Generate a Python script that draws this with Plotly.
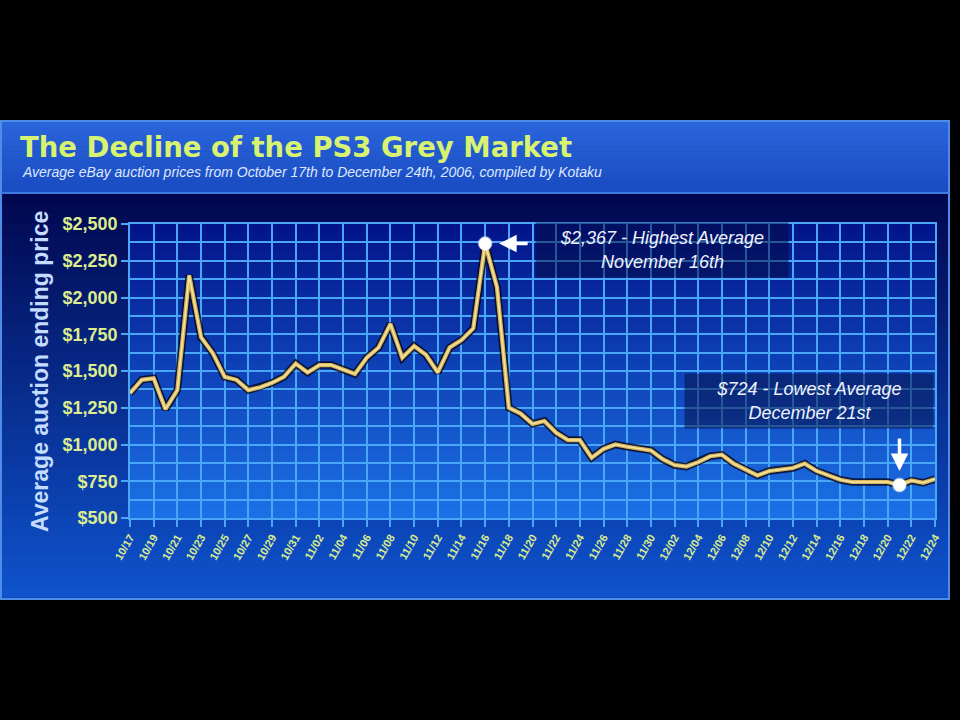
import plotly.graph_objects as go
import pandas as pd

# ---------------- data ----------------
dates = [d.strftime("%Y-%m-%d") for d in pd.date_range("2006-10-17", "2006-12-24", freq="D")]
prices = [
    1350, 1440, 1450, 1240, 1370, 2150, 1730, 1620, 1460, 1440,
    1370, 1390, 1420, 1460, 1550, 1490, 1540, 1540, 1510, 1480,
    1590, 1660, 1820, 1590, 1670, 1610, 1490, 1660, 1710, 1790,
    2367, 2070, 1250, 1210, 1140, 1160, 1080, 1030, 1030, 910,
    970, 1000, 985, 975, 960, 900, 860, 850, 880, 920,
    930, 870, 830, 790, 820, 830, 840, 870, 820, 790,
    760, 745, 745, 750, 745, 724, 755, 740, 765,
]
title_text = "The Decline of the PS3 Grey Market"
subtitle_text = "Average eBay auction prices from October 17th to December 24th, 2006, compiled by Kotaku"
y_title = "Average auction ending price"
high_note = "$2,367 - Highest Average<br>November 16th"
low_note = "$724 - Lowest Average<br>December 21st"

i_hi = prices.index(max(prices))
i_lo = prices.index(min(prices))

# ---------------- geometry helpers (pixel -> paper) ----------------
L, R, T, B = 130, 25, 224, 202
W, H = 960, 720
PW, PH = W - L - R, H - T - B
def px(x):
    return (x - L) / PW
def py(y):
    return (H - B - y) / PH

def hex2rgb(h):
    h = h.lstrip("#")
    return tuple(int(h[i:i + 2], 16) for i in (0, 2, 4))
def mix(c1, c2, t):
    a, b = hex2rgb(c1), hex2rgb(c2)
    return "rgb(%d,%d,%d)" % tuple(round(a[k] + (b[k] - a[k]) * t) for k in range(3))

shapes = []
# panel + title bar
shapes.append(dict(type="rect", xref="paper", yref="paper", x0=px(0), x1=px(950), y0=py(600), y1=py(120),
                   fillcolor="#0c3fae", line=dict(width=0), layer="below"))
n = 12
for k in range(n):
    y0 = 122 + (192 - 122) * k / n
    y1 = 122 + (192 - 122) * (k + 1) / n + 0.6
    shapes.append(dict(type="rect", xref="paper", yref="paper", x0=px(0), x1=px(950), y0=py(y1), y1=py(y0),
                       fillcolor=mix("#2a64da", "#1a4cc2", k / (n - 1)), line=dict(width=0), layer="below"))
# body gradient
n = 40
for k in range(n):
    y0 = 194 + (597 - 194) * k / n
    y1 = 194 + (597 - 194) * (k + 1) / n + 0.6
    shapes.append(dict(type="rect", xref="paper", yref="paper", x0=px(2), x1=px(948), y0=py(y1), y1=py(y0),
                       fillcolor=mix("#010850", "#0e52cc", k / (n - 1)), line=dict(width=0), layer="below"))
# plot-area gradient
n = 30
for k in range(n):
    y0 = T + PH * k / n
    y1 = T + PH * (k + 1) / n + 0.6
    shapes.append(dict(type="rect", xref="paper", yref="paper", x0=0, x1=1, y0=py(y1), y1=py(y0),
                       fillcolor=mix("#03158a", "#1c70e6", k / (n - 1)), line=dict(width=0), layer="below"))
# borders
shapes.append(dict(type="rect", xref="paper", yref="paper", x0=px(1), x1=px(949), y0=py(599), y1=py(121),
                   fillcolor="rgba(0,0,0,0)", line=dict(color="#4f8ce8", width=2), layer="below"))
shapes.append(dict(type="line", xref="paper", yref="paper", x0=px(1), x1=px(949), y0=py(193), y1=py(193),
                   line=dict(color="#3f7ae0", width=2), layer="below"))

grid_c = "#4aa6f6"
tick_font = dict(family="Liberation Sans", size=18, color="#dcec8e", weight="bold")

fig = go.Figure()
fig.add_trace(go.Scatter(x=dates, y=prices, mode="lines", line=dict(color="rgba(8,8,30,0.8)", width=7.5),
                         hoverinfo="skip"))
fig.add_trace(go.Scatter(x=dates, y=prices, mode="lines", line=dict(color="#d9b556", width=4.2),
                         name="Average price"))
fig.add_trace(go.Scatter(x=dates, y=prices, mode="lines", line=dict(color="#f4e6a8", width=1.5),
                         hoverinfo="skip"))
fig.add_trace(go.Scatter(x=[dates[i_hi], dates[i_lo]], y=[prices[i_hi], prices[i_lo]], mode="markers",
                         marker=dict(color="white", size=13, line=dict(color="rgba(255,255,255,0.4)", width=2))))

annotations = [
    dict(xref="paper", yref="paper", x=px(20), y=py(172), xanchor="left", yanchor="middle",
         text=subtitle_text, showarrow=False,
         font=dict(family="Liberation Sans", size=14, color="#dfe8ff", style="italic")),
    dict(xref="paper", yref="paper", x=px(40), y=py(372), xanchor="center", yanchor="middle",
         text=y_title, textangle=-90, showarrow=False,
         font=dict(family="Liberation Sans", size=23, color="#c4dcff", weight="bold")),
    dict(xref="paper", yref="paper", x=px(662), y=py(250), xanchor="center", yanchor="middle",
         text=high_note, showarrow=False, width=250, height=52, bgcolor="rgba(2,10,60,0.5)",
         font=dict(family="Liberation Sans", size=18, color="#eef2ff", style="italic")),
    dict(xref="paper", yref="paper", x=px(809), y=py(401), xanchor="center", yanchor="middle",
         text=low_note, showarrow=False, width=246, height=52, bgcolor="rgba(2,10,60,0.5)",
         font=dict(family="Liberation Sans", size=18, color="#eef2ff", style="italic")),
    dict(x=dates[i_hi], y=prices[i_hi], xref="x", yref="y", text="", showarrow=True,
         ax=44, ay=0, standoff=14, arrowhead=2, arrowsize=1.0, arrowwidth=3.5, arrowcolor="white"),
    dict(x=dates[i_lo], y=prices[i_lo], xref="x", yref="y", text="", showarrow=True,
         ax=0, ay=-48, standoff=14, arrowhead=2, arrowsize=1.0, arrowwidth=3.5, arrowcolor="white"),
]

fig.update_layout(
    width=W, height=H, margin=dict(l=L, r=R, t=T, b=B),
    paper_bgcolor="black", plot_bgcolor="rgba(0,0,0,0)", showlegend=False,
    title=dict(text=title_text, xref="container", yref="container", x=20 / W, y=1 - 147 / H,
               xanchor="left", yanchor="middle",
               font=dict(family="DejaVu Sans", size=27.5, color="#d8f272", weight="bold")),
    shapes=shapes, annotations=annotations,
    xaxis=dict(type="date", range=[dates[0], dates[-1]], tick0=dates[0], dtick=2 * 86400000,
               tickformat="%m/%d", tickangle=-60, showgrid=True, gridcolor=grid_c, gridwidth=1.5,
               ticks="outside", ticklen=7, tickcolor=grid_c, tickwidth=1.5, showline=True,
               linecolor=grid_c, linewidth=1.5, mirror=True, zeroline=False,
               tickfont=dict(family="Liberation Sans", size=11, color="#dcec8e", weight="bold")),
    yaxis=dict(range=[500, 2500], dtick=250, tickprefix="$", tickformat=",d", showgrid=True,
               gridcolor=grid_c, gridwidth=1.5, ticks="outside", ticklen=7, tickcolor=grid_c,
               tickwidth=1.5, showline=True, linecolor=grid_c, linewidth=1.5, mirror=True,
               zeroline=False, tickfont=tick_font,
               minor=dict(dtick=125, showgrid=True, gridcolor=grid_c, gridwidth=1.5, ticks="")),
)

fig.write_html("out.html", config={"displayModeBar": False},
               post_script="document.body.style.margin='0';document.body.style.background='black';"
                           "document.documentElement.style.overflow='hidden';")
